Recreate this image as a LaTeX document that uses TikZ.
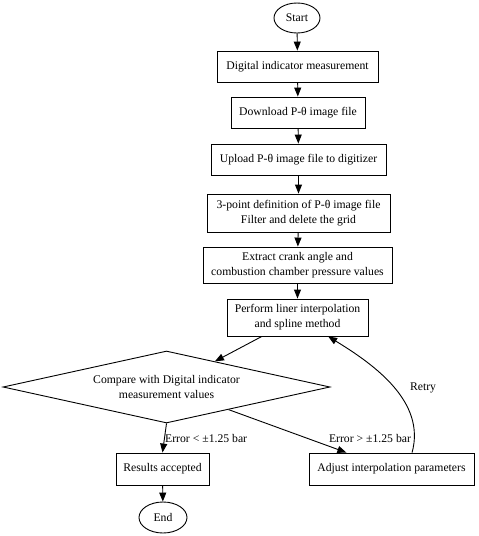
\documentclass[tikz,border=0pt]{standalone}
\usepackage{fontspec}
\setmainfont{Liberation Serif}
\usetikzlibrary{shapes.geometric,arrows.meta,calc}
\begin{document}
\begin{tikzpicture}[x=1pt,y=-1pt,
  every node/.style={font=\fontsize{11.7pt}{15pt}\selectfont, inner sep=0pt, align=center},
  box/.style={draw, line width=0.9pt, rectangle},
  term/.style={draw, line width=0.9pt, ellipse},
  dec/.style={draw, line width=0.9pt, diamond, aspect=4.54},
  arr/.style={line width=0.9pt, -{Triangle[length=9pt,width=7pt]}},
  lbl/.style={font=\fontsize{11.7pt}{15pt}\selectfont}]
\useasboundingbox (0,0) rectangle (479,536);
\node[term, minimum width=46pt, minimum height=30pt] (start) at (297,18) {Start};
\node[box, minimum width=161pt, minimum height=31pt] (b1) at (297.5,66.5) {Digital indicator measurement};
\node[box, minimum width=134pt, minimum height=31pt] (b2) at (298,112.5) {Download P-θ image file};
\node[box, minimum width=175pt, minimum height=31pt] (b3) at (298.5,159.5) {Upload P-θ image file to digitizer};
\node[box, minimum width=183pt, minimum height=38pt] (b4) at (298.5,213) {3-point definition of P-θ image file\\Filter and delete the grid};
\node[box, minimum width=189pt, minimum height=36pt] (b5) at (297.5,265) {Extract crank angle and\\combustion chamber pressure values};
\node[box, minimum width=141pt, minimum height=37pt] (b6) at (297.5,317.5) {Perform liner interpolation\\and spline method};
\node[dec, minimum width=327pt, minimum height=72pt] (d) at (166.5,387) {Compare with Digital indicator\\measurement values};
\node[box, minimum width=93pt, minimum height=32pt] (res) at (162.5,469) {Results accepted};
\node[box, minimum width=165pt, minimum height=32pt] (adj) at (391.5,469) {Adjust interpolation parameters};
\node[term, minimum width=48pt, minimum height=31pt] (end) at (163,517.5) {End};
\draw[arr] (start) -- (b1);
\draw[arr] (b1) -- (b2);
\draw[arr] (b2) -- (b3);
\draw[arr] (b3) -- (b4);
\draw[arr] (b4) -- (b5);
\draw[arr] (b5) -- (b6);
\draw[arr] (b6) -- (d);
\draw[arr] (d.south) -- (res.north);
\draw[arr] (d) -- (adj);
\draw[arr] (res) -- (end);
\coordinate (rs) at ($(adj.north west)!0.624!(adj.north east)$);
\coordinate (re) at ($(b6.south west)!0.716!(b6.south east)$);
\draw[arr] (rs) .. controls (426,402) and (375,365) .. (re);
\node[lbl, anchor=west] (l1) at (165,439) {Error < ±1.25 bar};
\node[lbl] (l2) at (370,439) {Error > ±1.25 bar};
\node[lbl] (l3) at (423,388) {Retry};
\end{tikzpicture}
\end{document}
